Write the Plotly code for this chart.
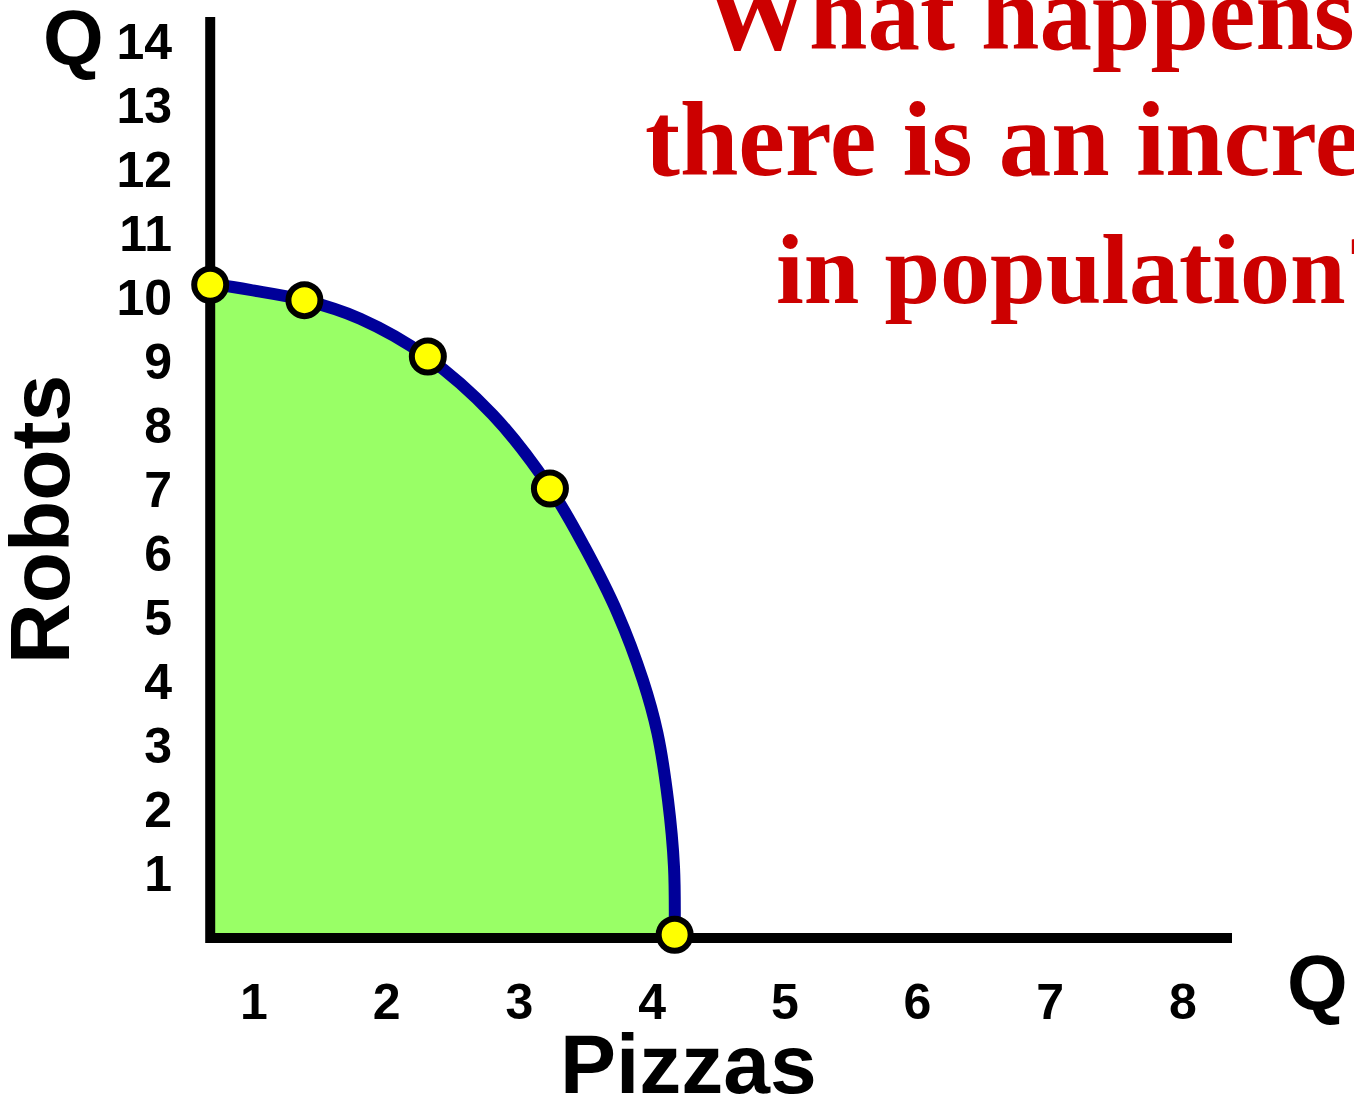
import plotly.graph_objects as go

# ---------------- data ----------------
curve_pizzas = [0.67, 0.97, 1.38, 1.80, 2.30, 2.80, 3.23, 3.49, 3.74, 3.93, 4.04, 4.12, 4.165, 4.17]
curve_robots = [10.22, 10.12, 9.96, 9.67, 9.08, 8.17, 7.03, 6.11, 5.07, 4.03, 3.20, 2.15, 1.11, 0.0]

point_pizzas = [0.67, 1.38, 2.31, 3.23, 4.17]
point_robots = [10.2, 9.96, 9.08, 7.02, 0.05]

x_ticks = [1, 2, 3, 4, 5, 6, 7, 8]
y_ticks = [1, 2, 3, 4, 5, 6, 7, 8, 9, 10, 11, 12, 13, 14]

x_label = "Pizzas"
y_label = "Robots"
q_label = "Q"
title_lines = ["What happens if", "there is an increase", "in population?"]

# axis extents (in data units)
AXIS_X = 0.67
AXIS_X_END = 8.37
AXIS_Y_TOP = 14.38

# ---------------- layout geometry ----------------
W, H = 1354, 1102
ML, MR, MT, MB = 190, 100, 5, 150
X0_PX, X_UNIT = 121.3, 132.7   # pixel of x=0, pixels per x unit
Y0_PX, Y_UNIT = 938.0, 64.04   # pixel of y=0, pixels per y unit

x_range = [(ML - X0_PX) / X_UNIT, (W - MR - X0_PX) / X_UNIT]
y_range = [(Y0_PX - (H - MB)) / Y_UNIT, (Y0_PX - MT) / Y_UNIT]


def paper_x(p):
    return (p - ML) / (W - ML - MR)


def paper_y(p):
    return (H - MB - p) / (H - MT - MB)


SANS = "Liberation Sans, Arial, sans-serif"
SERIF = "Liberation Serif, Times New Roman, serif"

fig = go.Figure()

# green area under the frontier
fig.add_trace(go.Scatter(
    x=curve_pizzas, y=curve_robots, mode="lines",
    line=dict(width=0, shape="spline", color="#99FF66"),
    fill="tozeroy", fillcolor="#99FF66", hoverinfo="skip", showlegend=False,
))

# axes (L shape)
fig.add_trace(go.Scatter(
    x=[AXIS_X, AXIS_X, AXIS_X_END], y=[AXIS_Y_TOP, 0, 0], mode="lines",
    line=dict(width=10, color="black"), hoverinfo="skip", showlegend=False,
))

# frontier curve
fig.add_trace(go.Scatter(
    x=curve_pizzas, y=curve_robots, mode="lines",
    line=dict(width=12, shape="spline", color="#000099"),
    hoverinfo="skip", showlegend=False,
))

# points
fig.add_trace(go.Scatter(
    x=point_pizzas, y=point_robots, mode="markers",
    marker=dict(size=32, color="#FFFF00", line=dict(width=6, color="black")),
    cliponaxis=False, hoverinfo="skip", showlegend=False,
))

fig.update_xaxes(
    range=x_range, tickmode="array", tickvals=x_ticks, ticktext=[str(v) for v in x_ticks],
    showgrid=False, zeroline=False, showline=False, ticks="", automargin=False,
    ticklabelstandoff=16,
    tickfont=dict(family=SANS, size=50, color="black", weight="bold"),
)
fig.update_yaxes(
    range=y_range, tickmode="array", tickvals=y_ticks, ticktext=[str(v) for v in y_ticks],
    showgrid=False, zeroline=False, showline=False, ticks="", automargin=False,
    ticklabelstandoff=17,
    tickfont=dict(family=SANS, size=50, color="black", weight="bold"),
)

annotations = [
    dict(text=q_label, x=paper_x(73), y=paper_y(38), font=dict(family=SANS, size=78, color="black", weight="bold")),
    dict(text=q_label, x=paper_x(1317), y=paper_y(983), font=dict(family=SANS, size=78, color="black", weight="bold")),
    dict(text=y_label, x=paper_x(40), y=paper_y(520), textangle=-90,
         font=dict(family=SANS, size=84, color="black", weight="bold")),
    dict(text=x_label, x=paper_x(688), y=paper_y(1064),
         font=dict(family=SANS, size=84, color="black", weight="bold")),
]
title_starts = [702, 643, 774]
title_centers_y = [13, 140, 269]
title_sizes = [105, 105, 100]
for line, sx, cy, fs in zip(title_lines, title_starts, title_centers_y, title_sizes):
    annotations.append(dict(
        text=line, x=paper_x(sx), y=paper_y(cy), xanchor="left",
        font=dict(family=SERIF, size=fs, color="#CC0000", weight="bold"),
    ))

for a in annotations:
    a.setdefault("xanchor", "center")
    a.update(xref="paper", yref="paper", yanchor="middle", showarrow=False)

fig.update_layout(
    width=W, height=H,
    margin=dict(l=ML, r=MR, t=MT, b=MB, pad=0),
    paper_bgcolor="white", plot_bgcolor="white",
    annotations=annotations, hovermode=False, showlegend=False,
)

fig.write_html("out.html", config={"displayModeBar": False, "staticPlot": True},
               post_script="document.body.style.margin='0';")
